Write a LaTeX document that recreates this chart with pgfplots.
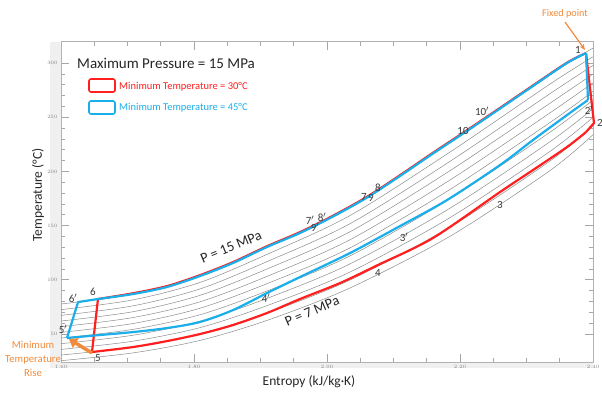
\documentclass[border=0pt]{standalone}
\usepackage{pgfplots}
\pgfplotsset{compat=1.18}
\usetikzlibrary{arrows.meta}
\usepackage{fontspec}
\setmainfont{Carlito}
\definecolor{cred}{HTML}{FF1F1F}
\definecolor{cblue}{HTML}{1AAFEA}
\definecolor{corange}{HTML}{F08A3C}
\definecolor{clab}{HTML}{3A3A3A}
\definecolor{ciso}{HTML}{8C8C8C}
\begin{document}
\begin{tikzpicture}
\useasboundingbox (0,0) rectangle (602pt,394pt);
\fill[gray!12] (50pt,26pt) rectangle (593pt,352pt);
\begin{axis}[at={(61pt,32pt)}, anchor=south west, width=532pt, height=320pt, scale only axis,
  xmin=1.6, xmax=2.4, ymin=24.2, ymax=319.4, clip=false,
  axis background/.style={fill=white},
  axis line style={draw=gray!60, line width=1pt},
  xtick={1.6,1.8,2.0,2.2,2.4}, minor x tick num=3,
  ytick={50,100,150,200,250,300}, minor y tick num=4,
  tick style={gray!70, line width=0.7pt}, major tick length=8pt, minor tick length=4pt,
  tick align=inside,
  ticklabel style={font=\fontsize{3.5}{4}\selectfont, text=gray},
  xticklabel style={/pgf/number format/.cd, fixed, fixed zerofill, precision=2},
]
% background isobars
\addplot[ciso, line width=0.5pt, smooth] coordinates {(1.600,77.7) (1.7083,86.9) (1.8090,103.5) (1.9098,130.3) (2.0346,166.7) (2.1850,226.5) (2.3353,289.4) (2.400,313.8)};
\addplot[ciso, line width=0.5pt, smooth] coordinates {(1.600,72.5) (1.7083,81.5) (1.8090,97.6) (1.9098,123.5) (2.0346,159.3) (2.1850,217.9) (2.3353,280.6) (2.400,305.8)};
\addplot[ciso, line width=0.5pt, smooth] coordinates {(1.600,67.2) (1.7083,76.0) (1.8090,91.6) (1.9098,116.8) (2.0346,151.8) (2.1850,209.3) (2.3353,271.7) (2.400,297.8)};
\addplot[ciso, line width=0.5pt, smooth] coordinates {(1.600,62.0) (1.7083,70.6) (1.8090,85.7) (1.9098,110.0) (2.0346,144.4) (2.1850,200.7) (2.3353,262.9) (2.400,289.8)};
\addplot[ciso, line width=0.5pt, smooth] coordinates {(1.600,56.8) (1.7083,65.2) (1.8090,79.7) (1.9098,103.2) (2.0346,137.0) (2.1850,192.1) (2.3353,254.0) (2.400,281.8)};
\addplot[ciso, line width=0.5pt, smooth] coordinates {(1.600,51.5) (1.7083,59.7) (1.8090,73.8) (1.9098,96.5) (2.0346,129.5) (2.1850,183.4) (2.3353,245.1) (2.400,273.9)};
\addplot[ciso, line width=0.5pt, smooth] coordinates {(1.600,46.3) (1.7083,54.3) (1.8090,67.8) (1.9098,89.7) (2.0346,122.1) (2.1850,174.8) (2.3353,236.2) (2.400,265.9)};
\addplot[ciso, line width=0.5pt, smooth] coordinates {(1.600,41.1) (1.7083,48.9) (1.8090,61.9) (1.9098,82.9) (2.0346,114.7) (2.1850,166.1) (2.3353,227.4) (2.400,257.9)};
\addplot[ciso, line width=0.5pt, smooth] coordinates {(1.600,35.8) (1.7083,43.4) (1.8090,55.9) (1.9098,76.2) (2.0346,107.2) (2.1850,157.4) (2.3353,218.5) (2.400,249.9)};
\addplot[ciso, line width=0.5pt, smooth] coordinates {(1.600,30.6) (1.7083,38.0) (1.8090,50.0) (1.9098,69.4) (2.0346,99.8) (2.1850,148.7) (2.3353,209.6) (2.400,241.9)};
\addplot[ciso, line width=0.5pt, smooth] coordinates {(1.600,25.4) (1.7083,32.6) (1.8090,44.1) (1.9098,62.6) (2.0346,92.5) (2.1850,140.2) (2.3353,200.8) (2.400,233.9)};
% red cycle (min T = 30 C)
\addplot[cred, line width=2.2pt, smooth] coordinates {(1.6556,82.3) (1.7083,87.6) (1.7594,94.2) (1.8090,104.3) (1.8586,116.3) (1.9098,131.0) (1.9594,144.0) (2.0090,159.1) (2.0602,176.6) (2.1098,196.5) (2.1594,217.2) (2.2105,238.0) (2.2602,258.6) (2.3098,279.3) (2.3609,300.3) (2.3895,309.2)};
\addplot[cred, line width=2.2pt, line join=round] coordinates {(2.3895,309.2) (2.4015,244.6) (2.3895,236.3)};
\addplot[cred, line width=2.2pt, smooth] coordinates {(2.3895,236.3) (2.3609,222.5) (2.3098,201.3) (2.2602,181.0) (2.1594,138.6) (2.0767,113.7) (2.0195,97.0) (1.9594,82.3) (1.9098,69.4) (1.8586,58.3) (1.8090,50.0) (1.7594,43.5) (1.7083,38.0) (1.6466,33.4)};
\addplot[cred, line width=2.2pt, line join=round] coordinates {(1.6466,33.4) (1.6556,82.3)};
% blue cycle (min T = 45 C)
\addplot[cblue, line width=2.2pt, line join=round] coordinates {(1.6556,82.3) (1.6256,79.5) (1.6090,46.3)};
\addplot[cblue, line width=2.2pt, smooth] coordinates {(1.6090,46.3) (1.6586,49.1) (1.7083,51.8) (1.7594,55.5) (1.8090,61.1) (1.8586,72.1) (1.9098,87.8) (1.9594,102.6) (2.0346,124.7) (2.1098,149.6) (2.1805,173.6) (2.2602,205.9) (2.3098,229.0) (2.3609,252.0) (2.3925,265.9)};
\addplot[cblue, line width=2.2pt, line join=round] coordinates {(2.3925,265.9) (2.3895,309.2)};
\addplot[cblue, line width=2.2pt, smooth] coordinates {(1.6556,82.3) (1.7083,86.9) (1.7594,93.4) (1.8090,103.5) (1.8586,115.5) (1.9098,130.3) (1.9594,143.2) (2.0090,158.4) (2.0602,175.9) (2.1098,195.8) (2.1594,216.5) (2.2105,237.3) (2.2602,258.0) (2.3098,278.8) (2.3609,300.0) (2.3895,309.2)};
\end{axis}
% point labels
\begin{scope}[every node/.style={text=clab, font=\fontsize{11}{13}\selectfont, inner sep=0pt}]
\node at (578pt,344pt) {1};
\node at (589pt,284pt) {2$'$};
\node at (600pt,271pt) {2};
\node at (500pt,189pt) {3};
\node at (404pt,157pt) {3$'$};
\node at (378pt,121pt) {4};
\node at (266pt,96pt) {4$'$};
\node at (98pt,36pt) {5};
\node at (63pt,65pt) {5$'$};
\node at (93pt,102pt) {6};
\node at (73pt,96pt) {6$'$};
\node at (310pt,174pt) {7$'$};
\node at (322pt,177pt) {8$'$};
\node at (315pt,167pt) {9$'$};
\node at (364pt,197pt) {7};
\node at (371pt,196pt) {9};
\node at (378pt,206pt) {8};
\node at (463pt,263pt) {10};
\node at (482pt,283pt) {10$'$};
\end{scope}
\node[text=black!85, font=\fontsize{14.3}{16}\selectfont, rotate=22.5] at (231pt,147pt) {P = 15 MPa};
\node[text=black!85, font=\fontsize{14.3}{16}\selectfont, rotate=23] at (312pt,83pt) {P = 7 MPa};
% legend / title
\node[anchor=west, text=black!85, font=\fontsize{15}{17}\selectfont, inner sep=0pt] at (77pt,331pt) {Maximum Pressure = 15 MPa};
\draw[cred, line width=1.6pt, rounded corners=2pt] (89pt,302pt) rectangle (115pt,315pt);
\node[anchor=west, text=cred, font=\fontsize{10.5}{12}\selectfont, inner sep=0pt] at (119pt,307pt) {Minimum Temperature = 30°C};
\draw[cblue, line width=1.6pt, rounded corners=2pt] (89pt,280pt) rectangle (115pt,293pt);
\node[anchor=west, text=cblue, font=\fontsize{10.5}{12}\selectfont, inner sep=0pt] at (119pt,286pt) {Minimum Temperature = 45°C};
% axis labels
\node[rotate=90, text=black!85, font=\fontsize{13.5}{16}\selectfont] at (38pt,199pt) {Temperature (°C)};
\node[text=black!85, font=\fontsize{13.5}{16}\selectfont] at (309pt,12pt) {Entropy (kJ/kg·K)};
% annotations
\node[text=corange, font=\fontsize{10.2}{12}\selectfont] at (565pt,380pt) {Fixed point};
\draw[corange, line width=1.2pt, -{Stealth[length=6pt,width=5pt]}] (565pt,372pt) -- (585pt,344pt);
\node[text=corange, align=center, font=\fontsize{10.7}{14}\selectfont] at (33pt,35pt) {Minimum\\Temperature\\Rise};
\draw[corange, line width=3.5pt, -{Triangle[length=8pt,width=11pt]}] (92pt,41pt) -- (69pt,55pt);
\end{tikzpicture}
\end{document}
